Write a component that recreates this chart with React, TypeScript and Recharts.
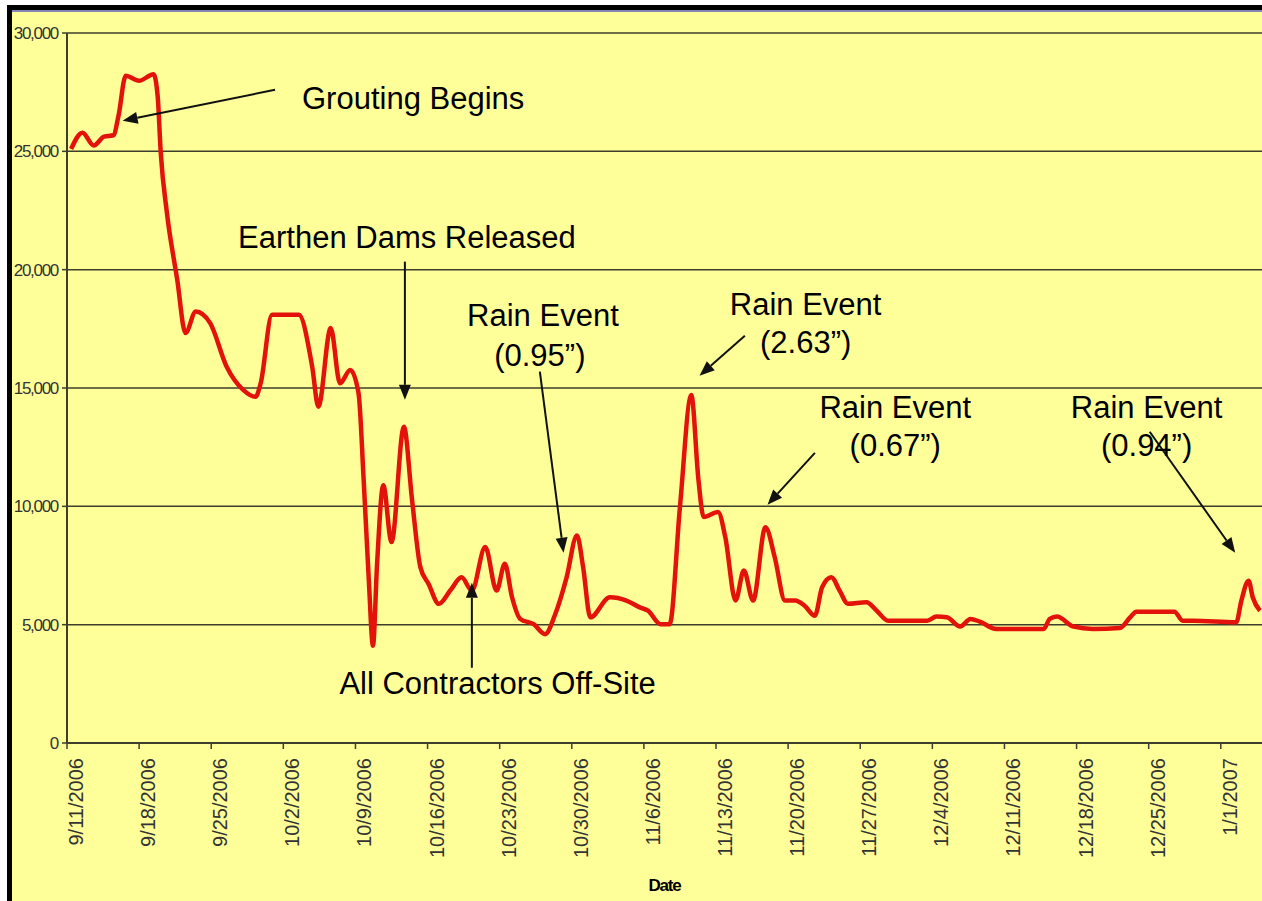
import React from 'react';
import { LineChart, Line, XAxis, YAxis, CartesianGrid, ReferenceLine, ReferenceDot } from 'recharts';

// day offset from 9/11/2006
const days = [
  0.4, 1.5, 2.6, 3.6, 4.5, 5.0, 5.7, 7.0, 8.4, 8.8, 9.1, 9.7, 10.7, 11.5, 12.5, 13.9, 15.5, 17.1, 18.3, 18.8,
  19.9, 22.5, 23.8, 24.4, 25.6, 26.5, 27.5, 28.3, 28.8, 29.3, 29.7, 30.1, 30.7, 31.5, 32.7, 33.5, 34.3, 35.1,
  36.1, 37.2, 38.3, 39.3, 40.6, 41.7, 42.5, 43.2, 44.0, 45.3, 46.4, 47.4, 48.5, 49.5, 50.1, 50.8, 52.7, 54.3,
  55.6, 56.4, 57.6, 58.5, 59.5, 60.6, 61.3, 61.8, 63.2, 63.9, 64.9, 65.7, 66.6, 67.8, 68.7, 69.7, 70.7, 71.6,
  72.6, 73.3, 74.2, 75.0, 75.8, 77.6, 78.6, 79.7, 83.5, 84.4, 85.4, 86.7, 87.7, 88.6, 90.2, 94.8, 95.4, 96.1,
  97.7, 99.6, 102.2, 103.2, 103.8, 107.5, 108.3, 109.3, 113.5, 114.0, 114.7, 115.1, 115.8,
];
const flow = [
  25100, 25790, 25250, 25620, 25680, 26500, 28190, 27980, 28260, 27340, 24940, 22400, 19580, 17320, 18230, 17740, 15900, 14920, 14630, 15200,
  18090, 18090, 15900, 14210, 17530, 15200, 15760, 14780, 11100, 6860, 4110, 7570, 10890, 8490, 13360, 10250, 7430, 6720,
  5880, 6440, 7000, 6440, 8280, 6440, 7570, 6160, 5240, 5020, 4600, 5450, 7000, 8770, 7430, 5310, 6160, 6020,
  5730, 5590, 5020, 5020, 9970, 14700, 11100, 9550, 9760, 8700, 6020, 7290, 6020, 9120, 7850, 6020, 6020, 5800,
  5380, 6580, 7000, 6440, 5880, 5950, 5590, 5170, 5170, 5340, 5310, 4920, 5240, 5130, 4820, 4820, 5240, 5340,
  4920, 4820, 4860, 5310, 5550, 5550, 5170, 5170, 5100, 6020, 6860, 6160, 5590,
];

const tickLabels = [
  '9/11/2006', '9/18/2006', '9/25/2006', '10/2/2006', '10/9/2006', '10/16/2006', '10/23/2006', '10/30/2006',
  '11/6/2006', '11/13/2006', '11/20/2006', '11/27/2006', '12/4/2006', '12/11/2006', '12/18/2006', '12/25/2006', '1/1/2007',
];
const xTicks = tickLabels.map((_, i) => i * 7);
const yTicks = [0, 5000, 10000, 15000, 20000, 25000, 30000];

// annotation texts: [day, value, text]
const notes: [number, number, string][] = [
  [33.6, 27220, 'Grouting Begins'],
  [33.0, 21350, 'Earthen Dams Released'],
  [46.2, 18050, 'Rain Event'],
  [45.9, 16360, '(0.95\u201D)'],
  [71.7, 18520, 'Rain Event'],
  [71.7, 16910, '(2.63\u201D)'],
  [80.4, 14170, 'Rain Event'],
  [80.4, 12560, '(0.67\u201D)'],
  [104.8, 14170, 'Rain Event'],
  [104.8, 12560, '(0.94\u201D)'],
  [41.8, 2510, 'All Contractors Off-Site'],
];
// arrows: [fromDay, fromValue, toDay, toValue]
const arrows: [number, number, number, number][] = [
  [20.2, 27600, 5.4, 26290],
  [32.8, 20340, 32.8, 14500],
  [45.9, 15690, 48.2, 8040],
  [65.8, 17210, 61.4, 15520],
  [72.6, 12260, 68.0, 10070],
  [105.1, 13150, 113.4, 8040],
  [39.3, 3180, 39.3, 6770],
];

const data = days.map((d, i) => ({ day: d, flow: flow[i] }));

const Arrow = (p: any) => {
  const { x1, y1, x2, y2 } = p;
  const ang = Math.atan2(y2 - y1, x2 - x1);
  const len = 15, half = 6;
  const bx = x2 - len * Math.cos(ang), by = y2 - len * Math.sin(ang);
  const nx = -Math.sin(ang) * half, ny = Math.cos(ang) * half;
  return (
    <g>
      <line x1={x1} y1={y1} x2={bx} y2={by} stroke="#111" strokeWidth={2} />
      <polygon points={`${x2},${y2} ${bx + nx},${by + ny} ${bx - nx},${by - ny}`} fill="#111" />
    </g>
  );
};

const XTick = (p: any) => {
  const { x, y, payload } = p;
  return (
    <text
      transform={`translate(${x + 16},${y + 9}) rotate(-90)`}
      textAnchor="end"
      fontSize={20}
      fontFamily="'Liberation Sans', Arial, sans-serif"
      fill="#333"
    >
      {tickLabels[Math.round(payload.value / 7)]}
    </text>
  );
};

export default function App() {
  return (
    <div style={{ position: 'absolute', left: 0, top: 0, width: 1262, height: 901, background: '#fff', overflow: 'hidden' }}>
      <div style={{ position: 'absolute', left: 7, top: 5, right: 0, bottom: 0, background: '#ffff99', borderTop: '5px solid #000', borderLeft: '5px solid #000' }} />
      <div style={{ position: 'absolute', left: 12, top: 10, right: 0, height: 2, background: '#8585b5' }} />
      <div style={{ position: 'absolute', left: 0, top: 0 }}>
        <LineChart width={1262} height={901} data={data} margin={{ top: 33, right: 0, bottom: 8, left: 0 }}>
          <CartesianGrid vertical={false} stroke="#3e3e2c" strokeWidth={1.5} />
          <XAxis
            dataKey="day"
            type="number"
            domain={[0, 116]}
            ticks={xTicks}
            interval={0}
            height={150}
            tick={<XTick />}
            tickSize={6}
            tickMargin={0}
            axisLine={{ stroke: '#3e3e2c', strokeWidth: 2 }}
            tickLine={{ stroke: '#3e3e2c', strokeWidth: 1.5 }}
            label={{ value: 'Date', position: 'insideBottom', offset: 2, fontSize: 17, fontWeight: 'bold', fill: '#000', fontFamily: "'Liberation Sans', Arial, sans-serif", letterSpacing: -1.2 }}
          />
          <YAxis
            type="number"
            domain={[0, 30000]}
            ticks={yTicks}
            width={67}
            tickSize={5}
            tickMargin={4}
            tickFormatter={(v: number) => v.toLocaleString('en-US')}
            tick={{ fontSize: 17, fill: '#333', fontFamily: "'Liberation Sans', Arial, sans-serif", letterSpacing: -1.3 }}
            axisLine={{ stroke: '#3e3e2c', strokeWidth: 2 }}
            tickLine={{ stroke: '#3e3e2c', strokeWidth: 1.5 }}
          />
          <Line
            type="monotone"
            dataKey="flow"
            stroke="#e3130c"
            strokeWidth={4.5}
            dot={false}
            isAnimationActive={false}
          />
          {arrows.map((a, i) => (
            <ReferenceLine
              key={'a' + i}
              segment={[{ x: a[0], y: a[1] }, { x: a[2], y: a[3] }]}
              ifOverflow="visible"
              shape={Arrow}
            />
          ))}
          {notes.map((n, i) => (
            <ReferenceDot
              key={'n' + i}
              x={n[0]}
              y={n[1]}
              r={1}
              ifOverflow="visible"
              shape={(p: any) => (
                <text
                  x={p.cx}
                  y={p.cy}
                  textAnchor="middle"
                  dominantBaseline="central"
                  fontSize={31}
                  fontFamily="'Liberation Sans', Arial, sans-serif"
                  fill="#000"
                >
                  {n[2]}
                </text>
              )}
            />
          ))}
        </LineChart>
      </div>
    </div>
  );
}
